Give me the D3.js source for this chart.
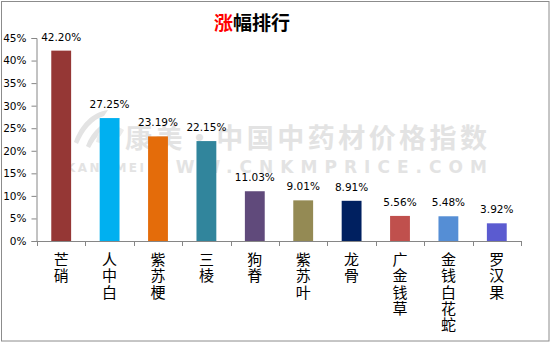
<!DOCTYPE html>
<html><head><meta charset="utf-8">
<script src="https://cdn.jsdelivr.net/npm/d3@7"></script>
<style>body{margin:0;background:#fff}svg{display:block}</style>
</head><body>
<svg id="c" width="551" height="343"></svg>
<script>
const categories = ["芒硝","人中白","紫苏梗","三棱","狗脊","紫苏叶","龙骨","广金钱草","金钱白花蛇","罗汉果"];
const values = [42.20, 27.25, 23.19, 22.15, 11.03, 9.01, 8.91, 5.56, 5.48, 3.92];
const colors = ["#953735","#00B0F0","#E46C0A","#31859C","#604A7B","#948A54","#002060","#C0504D","#558ED5","#5B5BD0"];
const yTicks = [0,5,10,15,20,25,30,35,40,45];

const svg = d3.select("#c");
const W = 551, H = 343;
svg.append("rect").attr("x",1.5).attr("y",1.5).attr("width",547.5).attr("height",339.5)
  .attr("fill","#fff").attr("stroke","#8c8c8c").attr("stroke-width",1);

// Title
const title = svg.append("text").attr("x",252).attr("y",30).attr("text-anchor","middle")
  .attr("font-family","'Noto Sans CJK SC'").attr("font-size",19).attr("font-weight",700);
title.append("tspan").attr("fill","#ff0000").text("涨");
title.append("tspan").attr("fill","#000").text("幅排行");

// Watermark
const wm = svg.append("g").attr("fill","#e3e3e3");
wm.append("path").attr("d","M74,142 C80,125 92,112 108,110 L104,116 C92,120 84,130 78,144 Z");
wm.append("path").attr("d","M86,146 C92,130 104,120 120,118 L116,124 C104,128 96,136 90,148 Z");
wm.append("path").attr("d","M98,134 C104,126 116,124 124,130 C120,140 108,146 96,142 Z").attr("fill","#ececec");
wm.append("text").attr("x",125).attr("y",148).attr("font-family","'Noto Sans CJK SC'")
  .attr("font-size",27).attr("font-weight",700).attr("textLength",362).text("康美·中国中药材价格指数");
wm.append("text").attr("x",66).attr("y",172).attr("font-family","'DejaVu Sans'")
  .attr("font-size",12).attr("font-weight",700).attr("textLength",78).text("KANGMEI");
wm.append("text").attr("x",150).attr("y",173).attr("font-family","'DejaVu Sans'")
  .attr("font-size",17).attr("font-weight",700).attr("textLength",337).text("WWW.CNKMPRICE.COM");

// Scales
const x = d3.scaleBand().domain(categories).range([37,521]).paddingInner(0.59).paddingOuter(0.295);
const y = d3.scaleLinear().domain([0,45]).range([241,38]);

// Y axis
const yAxis = d3.axisLeft(y).tickValues(yTicks).tickSize(5).tickPadding(5).tickFormat(d=>d+"%");
const yg = svg.append("g").attr("transform","translate(36.5,0)").call(yAxis);
yg.select(".domain").attr("stroke","#868686");
yg.selectAll(".tick line").attr("stroke","#868686");
yg.selectAll(".tick text").attr("font-family","'DejaVu Sans'").attr("font-size",10.5).attr("fill","#000")
  .attr("x",-10);

// Bars
svg.append("g").selectAll("rect").data(values).join("rect")
  .attr("x",(d,i)=>x(categories[i])).attr("width",x.bandwidth())
  .attr("y",d=>y(d)).attr("height",d=>y(0)-y(d))
  .attr("fill",(d,i)=>colors[i]);

// Value labels
svg.append("g").selectAll("text").data(values).join("text")
  .attr("x",(d,i)=>x(categories[i])+x.bandwidth()/2).attr("y",d=>y(d)-10)
  .attr("text-anchor","middle").attr("font-family","'DejaVu Sans'").attr("font-size",10.5).attr("fill","#000")
  .text(d=>d.toFixed(2)+"%");

// X axis
const step = x.step();
const xg = svg.append("g");
xg.append("line").attr("x1",36).attr("x2",521.5).attr("y1",241.5).attr("y2",241.5).attr("stroke","#868686");
const bounds = d3.range(categories.length+1).map(i=>37+i*((521-37)/categories.length));
xg.selectAll("line.t").data(bounds).join("line").attr("class","t")
  .attr("x1",d=>Math.round(d)+0.5).attr("x2",d=>Math.round(d)+0.5).attr("y1",241).attr("y2",246).attr("stroke","#868686");

// X labels vertical
categories.forEach((c,i)=>{
  const cx = x(c)+x.bandwidth()/2;
  const t = svg.append("text").attr("font-family","'Noto Sans CJK SC'").attr("font-size",15)
    .attr("text-anchor","middle").attr("fill","#000");
  Array.from(c).forEach((ch,j)=>{
    t.append("tspan").attr("x",cx).attr("y",265+j*16.3).text(ch);
  });
});
</script>
</body></html>
